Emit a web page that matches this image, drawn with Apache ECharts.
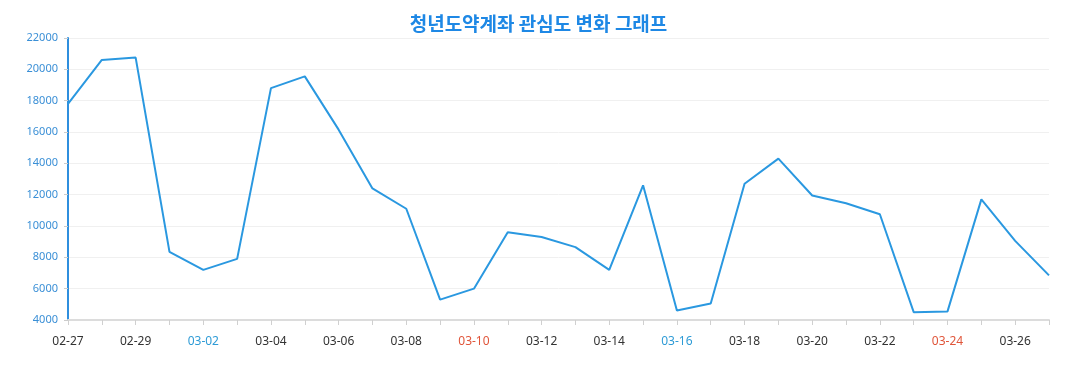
<!DOCTYPE html>
<html>
<head>
<meta charset="utf-8">
<script src="https://cdn.jsdelivr.net/npm/echarts@6/dist/echarts.min.js"></script>
<style>
html,body{margin:0;padding:0;background:#fff;}
#main{width:1077px;height:390px;}
</style>
</head>
<body>
<div id="main"></div>
<script>
const titleText = '청년도약계좌 관심도 변화 그래프';
const categories = ['02-27','02-28','02-29','03-01','03-02','03-03','03-04','03-05','03-06','03-07','03-08','03-09','03-10','03-11','03-12','03-13','03-14','03-15','03-16','03-17','03-18','03-19','03-20','03-21','03-22','03-23','03-24','03-25','03-26','03-27'];
const values = [17800,20600,20750,8350,7200,7900,18800,19550,16150,12400,11100,5300,6000,9600,9300,8650,7200,12600,4600,5050,12700,14300,11950,11450,10750,4500,4550,11700,9050,6850];
const saturdays = ['03-02','03-09','03-16','03-23'];
const sundays = ['02-25','03-03','03-10','03-17','03-24'];
const yTicks = {min:4000, max:22000, interval:2000};

const chart = echarts.init(document.getElementById('main'));
chart.setOption({
  animation:false,
  title:{
    text:titleText, left:'center', top:9,
    textStyle:{fontFamily:'Noto Sans CJK KR', fontSize:19, fontWeight:'bold', color:'#1e88e5'}
  },
  grid:{left:68, right:28, top:38, bottom:70},
  xAxis:{
    type:'category', data:categories, boundaryGap:false,
    axisLine:{lineStyle:{color:'#dcdcdc', width:2}},
    axisTick:{show:true, interval:0, length:5, lineStyle:{color:'#d0d0d0'}},
    axisLabel:{
      interval:1, margin:16, fontFamily:'Noto Sans', fontSize:12,
      color:function(v){ return saturdays.indexOf(v)>=0 ? '#2e9bd6' : (sundays.indexOf(v)>=0 ? '#e0553a' : '#333'); }
    },
    splitLine:{show:false}
  },
  yAxis:{
    type:'value', min:yTicks.min, max:yTicks.max, interval:yTicks.interval,
    axisLine:{show:true, lineStyle:{color:'#2f8fde', width:2}},
    axisTick:{show:true, length:4, lineStyle:{color:'#ccc'}},
    axisLabel:{fontFamily:'Noto Sans', fontSize:11, color:'#3a8fd6', margin:10, formatter:function(v){return String(v);}},
    splitLine:{lineStyle:{color:'#f0f0f0'}}
  },
  series:[{
    type:'line', data:values, showSymbol:false, symbol:'none',
    lineStyle:{color:'#2a98e0', width:2}
  }]
});
</script>
</body>
</html>
